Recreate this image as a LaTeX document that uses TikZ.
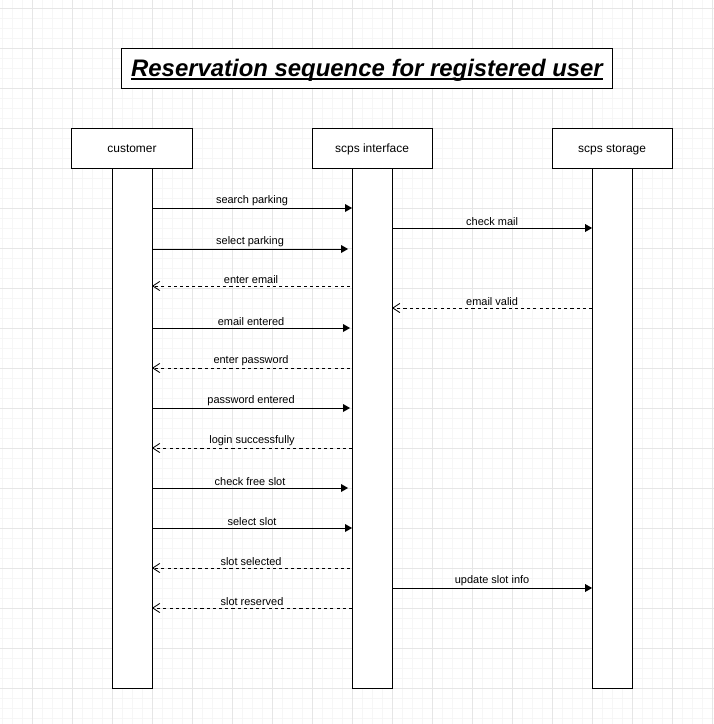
\documentclass[tikz,border=0pt]{standalone}
\usepackage{fontspec}
\setmainfont{Liberation Sans}
\usetikzlibrary{positioning, arrows.meta, calc}
\definecolor{gridfaint}{HTML}{F6F6F6}
\definecolor{gridstrong}{HTML}{E6E6E6}
\newsavebox{\titlebx}
\newcommand{\thickul}[1]{\sbox{\titlebx}{#1}\rlap{\usebox{\titlebx}}\rule[-2.6pt]{\wd\titlebx}{1.3pt}}

\begin{document}
\begin{tikzpicture}[
 x=0.025cm, y=-0.025cm,
 node distance=3cm and 3cm,
 minorline/.style={draw=gridfaint, line width=0.7pt},
 majorline/.style={draw=gridstrong, line width=0.7pt},
 titlebox/.style={draw, rectangle, line width=0.7pt, minimum width=12.25cm, minimum height=1cm, text height=15pt, text depth=3pt, fill=white, font=\fontsize{17}{20}\selectfont\bfseries\itshape},
 actor/.style={draw, rectangle, line width=0.7pt, outer sep=0pt, minimum width=3cm, minimum height=1cm, text height=6.6pt, text depth=0.6pt, fill=white, font=\fontsize{8.5}{10}\selectfont},
 lifeline/.style={draw, rectangle, line width=0.7pt, outer sep=0pt, minimum width=1cm, minimum height=13cm, fill=white},
 call/.style={-{Triangle[length=5pt, width=5.5pt]}, line width=0.7pt},
 reply/.style={-{Straight Barb[length=5pt, width=6.5pt]}, line width=0.6pt, dash pattern=on 2.2pt off 2.2pt},
 msglabel/.style={midway, above, inner sep=1.5pt, font=\fontsize{7.8}{9}\selectfont},
 ]

  % Background grid
  \useasboundingbox[fill=white] (0,0) rectangle (714,724);
  \foreach \gx in {2,12,...,712} \draw[minorline] (\gx,0) -- (\gx,724);
  \foreach \gy in {8,18,...,718} \draw[minorline] (0,\gy) -- (714,\gy);
  \foreach \gx in {32,72,...,712} \draw[majorline] (\gx,0) -- (\gx,724);
  \foreach \gy in {8,48,...,688} \draw[majorline] (0,\gy) -- (714,\gy);

  % Title
  \node[titlebox] (title) at (367,68) {\thickul{Reservation sequence for registered user}};

  % Participants
  \node[actor] (customer) at (132,148) {customer};
  \node[actor, right=of customer] (interface) {scps interface};
  \node[actor, right=of interface] (storage) {scps storage};

  % Lifelines
  \node[lifeline, below=0cm of customer] (cust_life) {};
  \node[lifeline, below=0cm of interface] (intf_life) {};
  \node[lifeline, below=0cm of storage] (stor_life) {};

  % Messages customer <-> interface <-> storage
  \draw[call] ($(cust_life.north east)+(0,40)$) -- ($(intf_life.north west)+(0,40)$) node[msglabel] {search parking};
  \draw[call] ($(intf_life.north east)+(0,60)$) -- ($(stor_life.north west)+(0,60)$) node[msglabel] {check mail};
  \draw[call] ($(cust_life.north east)+(0,81)$) -- ($(intf_life.north west)+(-4,81)$) node[msglabel] {select parking};
  \draw[reply] ($(intf_life.north west)+(-2,118)$) -- ($(cust_life.north east)+(0,118)$) node[msglabel] {enter email};
  \draw[reply] ($(stor_life.north west)+(0,140)$) -- ($(intf_life.north east)+(0,140)$) node[msglabel] {email valid};
  \draw[call] ($(cust_life.north east)+(0,160)$) -- ($(intf_life.north west)+(-2,160)$) node[msglabel] {email entered};
  \draw[reply] ($(intf_life.north west)+(-2,200)$) -- ($(cust_life.north east)+(0,200)$) node[msglabel] {enter password};
  \draw[call] ($(cust_life.north east)+(0,240)$) -- ($(intf_life.north west)+(-2,240)$) node[msglabel] {password entered};
  \draw[reply] ($(intf_life.north west)+(0,280)$) -- ($(cust_life.north east)+(0,280)$) node[msglabel] {login successfully};
  \draw[call] ($(cust_life.north east)+(0,320)$) -- ($(intf_life.north west)+(-4,320)$) node[msglabel] {check free slot};
  \draw[call] ($(cust_life.north east)+(0,360)$) -- ($(intf_life.north west)+(0,360)$) node[msglabel] {select slot};
  \draw[reply] ($(intf_life.north west)+(-2,400)$) -- ($(cust_life.north east)+(0,400)$) node[msglabel] {slot selected};
  \draw[call] ($(intf_life.north east)+(0,420)$) -- ($(stor_life.north west)+(0,420)$) node[msglabel] {update slot info};
  \draw[reply] ($(intf_life.north west)+(0,440)$) -- ($(cust_life.north east)+(0,440)$) node[msglabel] {slot reserved};

\end{tikzpicture}
\end{document}
